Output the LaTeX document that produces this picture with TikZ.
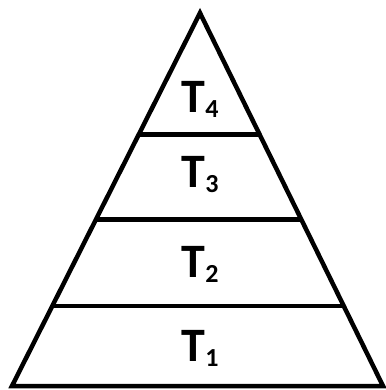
\documentclass[tikz,border=0pt]{standalone}
\usepackage{fontspec}
\setmainfont{Carlito}
\usetikzlibrary{math,calc}

\newcommand{\tiersub}[1]{\raisebox{-5pt}{\fontsize{26}{28}\selectfont #1}}

\begin{document}
\begin{tikzpicture}[x=1pt, y=-1pt,
	tierline/.style={line width=\lineW, line join=miter},
	tierlabel/.style={font=\fontsize{48}{52}\selectfont\bfseries, inner sep=0pt}]
	% Constants
	\tikzmath{
		\lineW = 4.5;
	}
	\useasboundingbox (0,0) rectangle (385,390);

	% Pyramid corners
	\coordinate (apex) at (200,13);
	\coordinate (baseL) at (12,386);
	\coordinate (baseR) at (383,386);
	\draw[tierline] (apex) -- (baseR) -- (baseL) -- cycle;

	% Borders between tiers
	\foreach \name/\frac in {a/0.215, b/0.446, c/0.674} {
		\draw[tierline] ($(baseL)!\frac!(apex)$) coordinate (\name L) -- ($(baseR)!\frac!(apex)$) coordinate (\name R);
	}

	% Tier labels
	\node[tierlabel] (tOne) at (200,348) {T\tiersub{1}};
	\node[tierlabel] (tTwo) at (200,264) {T\tiersub{2}};
	\node[tierlabel] (tThree) at (200,175) {T\tiersub{3}};
	\node[tierlabel] (tFour) at (200,99) {T\tiersub{4}};
\end{tikzpicture}
\end{document}
